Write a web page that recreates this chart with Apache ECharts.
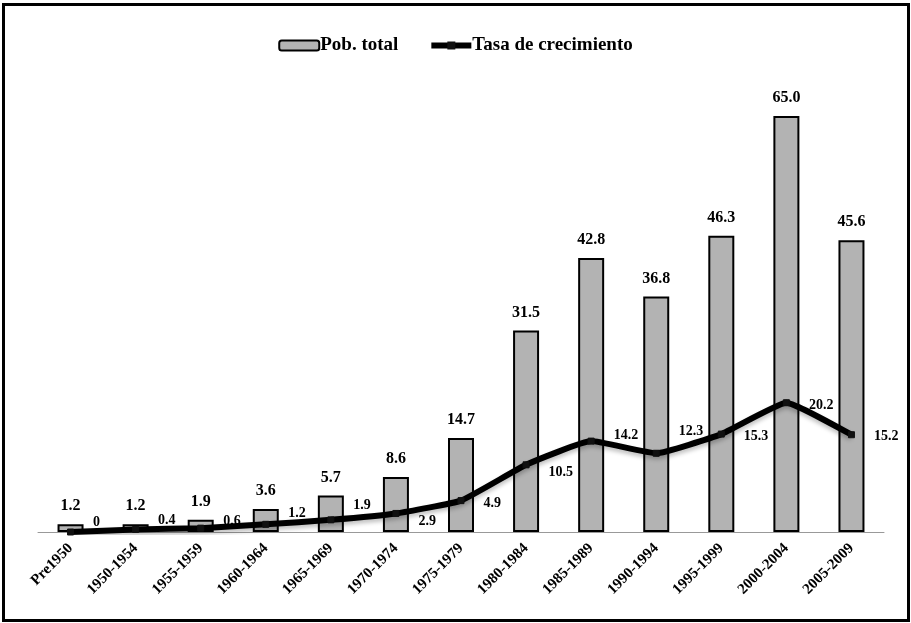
<!DOCTYPE html>
<html>
<head>
<meta charset="utf-8">
<script src="https://cdn.jsdelivr.net/npm/echarts@6/dist/echarts.min.js"></script>
<style>
  html, body { margin: 0; padding: 0; background: #fff; }
  #chart { position: absolute; left: 0; top: 0; width: 911px; height: 623px; }
  #frame { position: absolute; left: 2px; top: 3px; width: 902px; height: 613px; border: 3px solid #000; pointer-events: none; }
</style>
</head>
<body>
<div id="chart"></div>
<div id="frame"></div>
<script>
const categories = ['Pre1950','1950-1954','1955-1959','1960-1964','1965-1969','1970-1974','1975-1979','1980-1984','1985-1989','1990-1994','1995-1999','2000-2004','2005-2009'];
const pobTotal = [1.2, 1.2, 1.9, 3.6, 5.7, 8.6, 14.7, 31.5, 42.8, 36.8, 46.3, 65.0, 45.6];
const tasaCrecimiento = [0, 0.4, 0.6, 1.2, 1.9, 2.9, 4.9, 10.5, 14.2, 12.3, 15.3, 20.2, 15.2];
const seriesNames = ['Pob. total', 'Tasa de crecimiento'];

// label vertical nudges (style only)
const lineLabelDy = [-10, -9, -7, -11, -14, 8, 3, 8, -6, -22, 2, 3, 2];

const FONT = '"Liberation Serif", "Times New Roman", serif';

const chart = echarts.init(document.getElementById('chart'), null, { renderer: 'canvas' });

const lineData = tasaCrecimiento.map((v, i) => ({
  value: v,
  label: { offset: [0, lineLabelDy[i]] }
}));

chart.setOption({
  animation: false,
  backgroundColor: '#fff',
  textStyle: { fontFamily: FONT },
  legend: {
    top: 31,
    left: 'center',
    itemGap: 30,
    itemWidth: 40,
    itemHeight: 10,
    textStyle: { fontFamily: FONT, fontWeight: 'bold', fontSize: 19, color: '#000', padding: [0, 0, 0, -4] },
    data: [
      { name: seriesNames[0] },
      { name: seriesNames[1], lineStyle: { width: 6, color: '#000' }, itemStyle: { color: '#111' } }
    ]
  },
  grid: { left: 38, right: 27, top: 84, bottom: 91, containLabel: false },
  xAxis: {
    type: 'category',
    data: categories,
    axisLine: { show: true, lineStyle: { color: '#999', width: 1 } },
    axisTick: { show: false },
    axisLabel: {
      rotate: 45,
      interval: 0,
      margin: 14,
      color: '#000',
      fontFamily: FONT,
      fontWeight: 'bold',
      fontSize: 15
    }
  },
  yAxis: {
    type: 'value',
    min: 0,
    max: 70,
    show: false,
    splitLine: { show: false }
  },
  series: [
    {
      name: seriesNames[0],
      type: 'bar',
      data: pobTotal,
      barWidth: 26,
      itemStyle: { color: '#b3b3b3', borderColor: '#000', borderWidth: 2 },
      label: {
        show: true,
        position: 'top',
        distance: 10,
        formatter: p => p.value.toFixed(1),
        color: '#000',
        fontFamily: FONT,
        fontWeight: 'bold',
        fontSize: 16
      }
    },
    {
      name: seriesNames[1],
      type: 'line',
      data: lineData,
      smooth: 0.12,
      symbol: 'rect',
      symbolSize: 6,
      lineStyle: { color: '#000', width: 6, shadowColor: 'rgba(0,0,0,0.25)', shadowBlur: 4, shadowOffsetY: 3 },
      itemStyle: { color: '#111', borderColor: '#111' },
      label: {
        show: true,
        position: 'right',
        distance: 19,
        color: '#000',
        fontFamily: FONT,
        fontWeight: 'bold',
        fontSize: 14
      },
      z: 5
    }
  ]
});
</script>
</body>
</html>
